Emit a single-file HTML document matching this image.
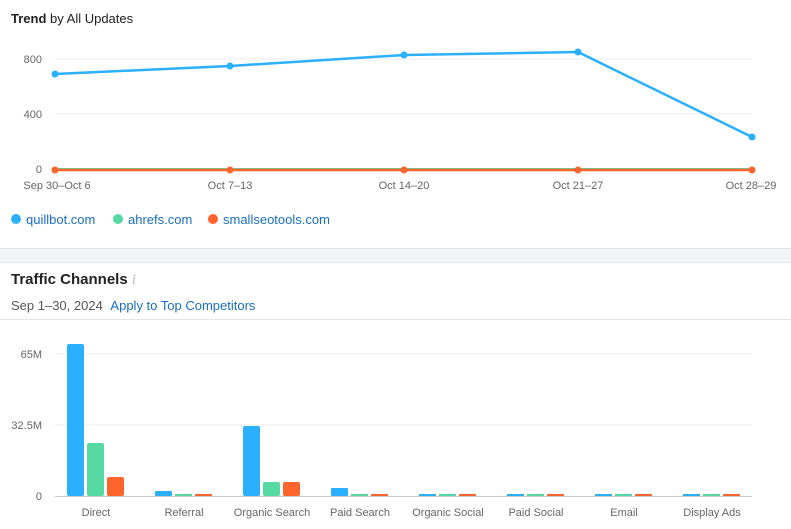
<!DOCTYPE html><html><head><style>
body{margin:0;width:791px;height:529px;background:#fff;font-family:"Liberation Sans",sans-serif;position:relative;overflow:hidden}
.t{position:absolute;white-space:nowrap}
</style></head><body>
<div style="position:absolute;left:0;top:248px;width:791px;height:13px;background:#f3f4f6;border-top:1px solid #e3e5e8;border-bottom:1px solid #e3e5e8"></div>
<div class="t" style="left:11px;top:11px;font-size:13px;color:#222"><b>Trend</b> by All Updates</div>
<div class="t" style="left:11px;top:271px;font-size:15px;color:#222;font-weight:bold">Traffic Channels <span style="color:#bbb;font-weight:normal;font-style:italic;font-family:'Liberation Serif',serif">i</span></div>
<div class="t" style="left:11px;top:298px;font-size:13px;color:#555">Sep 1–30, 2024 <span style="color:#1a6fc2;margin-left:4px">Apply to Top Competitors</span></div>
<div style="position:absolute;left:0;top:319px;width:791px;height:1px;background:#e3e5e8"></div>
<svg width="791" height="529" style="position:absolute;left:0;top:0" font-family="Liberation Sans" font-size="11" fill="#666">
<g stroke="#eceef0"><line x1="55" x2="752" y1="59" y2="59"/><line x1="55" x2="752" y1="114" y2="114"/></g>
<text x="42" y="63" text-anchor="end">800</text><text x="42" y="118" text-anchor="end">400</text><text x="42" y="173" text-anchor="end">0</text>
<polyline points="55,169 752,169" stroke="#57d9a3" stroke-width="2"/>
<polyline points="55,170 752,170" stroke="#ff642d" stroke-width="2.5"/>
<polyline points="55,74 230,66 404,55 578,52 752,137" fill="none" stroke="#2bb0ff" stroke-width="2.5"/>
<g fill="#2bb0ff"><circle cx="55" cy="74" r="3.5"/><circle cx="230" cy="66" r="3.5"/><circle cx="404" cy="55" r="3.5"/><circle cx="578" cy="52" r="3.5"/><circle cx="752" cy="137" r="3.5"/></g>
<g fill="#ff642d"><circle cx="55" cy="170" r="3.5"/><circle cx="230" cy="170" r="3.5"/><circle cx="404" cy="170" r="3.5"/><circle cx="578" cy="170" r="3.5"/><circle cx="752" cy="170" r="3.5"/></g>
<g text-anchor="middle"><text x="57" y="189">Sep 30–Oct 6</text><text x="230" y="189">Oct 7–13</text><text x="404" y="189">Oct 14–20</text><text x="578" y="189">Oct 21–27</text><text x="751" y="189">Oct 28–29</text></g>
<g font-size="13" fill="#1a6fc2"><circle cx="16" cy="219" r="5" fill="#2bb0ff"/><text x="26" y="224">quillbot.com</text>
<circle cx="118" cy="219" r="5" fill="#57d9a3"/><text x="128" y="224">ahrefs.com</text>
<circle cx="213" cy="219" r="5" fill="#ff642d"/><text x="223" y="224">smallseotools.com</text></g>
<g stroke="#eceef0"><line x1="55" x2="752" y1="354" y2="354"/><line x1="55" x2="752" y1="425" y2="425"/></g>
<line x1="55" x2="752" y1="496.5" y2="496.5" stroke="#ccc"/>
<text x="42" y="358" text-anchor="end">65M</text><text x="42" y="429" text-anchor="end">32.5M</text><text x="42" y="500" text-anchor="end">0</text>
<g>
<rect x="67" y="344" width="17" height="152" rx="2" fill="#2bb0ff"/><rect x="87" y="443" width="17" height="53" rx="2" fill="#57d9a3"/><rect x="107" y="477" width="17" height="19" rx="2" fill="#ff642d"/>
<rect x="155" y="491" width="17" height="5" rx="1" fill="#2bb0ff"/><rect x="175" y="494" width="17" height="2" fill="#57d9a3"/><rect x="195" y="494" width="17" height="2" fill="#ff642d"/>
<rect x="243" y="426" width="17" height="70" rx="2" fill="#2bb0ff"/><rect x="263" y="482" width="17" height="14" rx="2" fill="#57d9a3"/><rect x="283" y="482" width="17" height="14" rx="2" fill="#ff642d"/>
<rect x="331" y="488" width="17" height="8" rx="1" fill="#2bb0ff"/><rect x="351" y="494" width="17" height="2" fill="#57d9a3"/><rect x="371" y="494" width="17" height="2" fill="#ff642d"/>
<rect x="419" y="494" width="17" height="2" fill="#2bb0ff"/><rect x="439" y="494" width="17" height="2" fill="#57d9a3"/><rect x="459" y="494" width="17" height="2" fill="#ff642d"/>
<rect x="507" y="494" width="17" height="2" fill="#2bb0ff"/><rect x="527" y="494" width="17" height="2" fill="#57d9a3"/><rect x="547" y="494" width="17" height="2" fill="#ff642d"/>
<rect x="595" y="494" width="17" height="2" fill="#2bb0ff"/><rect x="615" y="494" width="17" height="2" fill="#57d9a3"/><rect x="635" y="494" width="17" height="2" fill="#ff642d"/>
<rect x="683" y="494" width="17" height="2" fill="#2bb0ff"/><rect x="703" y="494" width="17" height="2" fill="#57d9a3"/><rect x="723" y="494" width="17" height="2" fill="#ff642d"/>
</g>
<g text-anchor="middle"><text x="96" y="516">Direct</text><text x="184" y="516">Referral</text><text x="272" y="516">Organic Search</text><text x="360" y="516">Paid Search</text><text x="448" y="516">Organic Social</text><text x="536" y="516">Paid Social</text><text x="624" y="516">Email</text><text x="712" y="516">Display Ads</text></g>
</svg>
</body></html>
